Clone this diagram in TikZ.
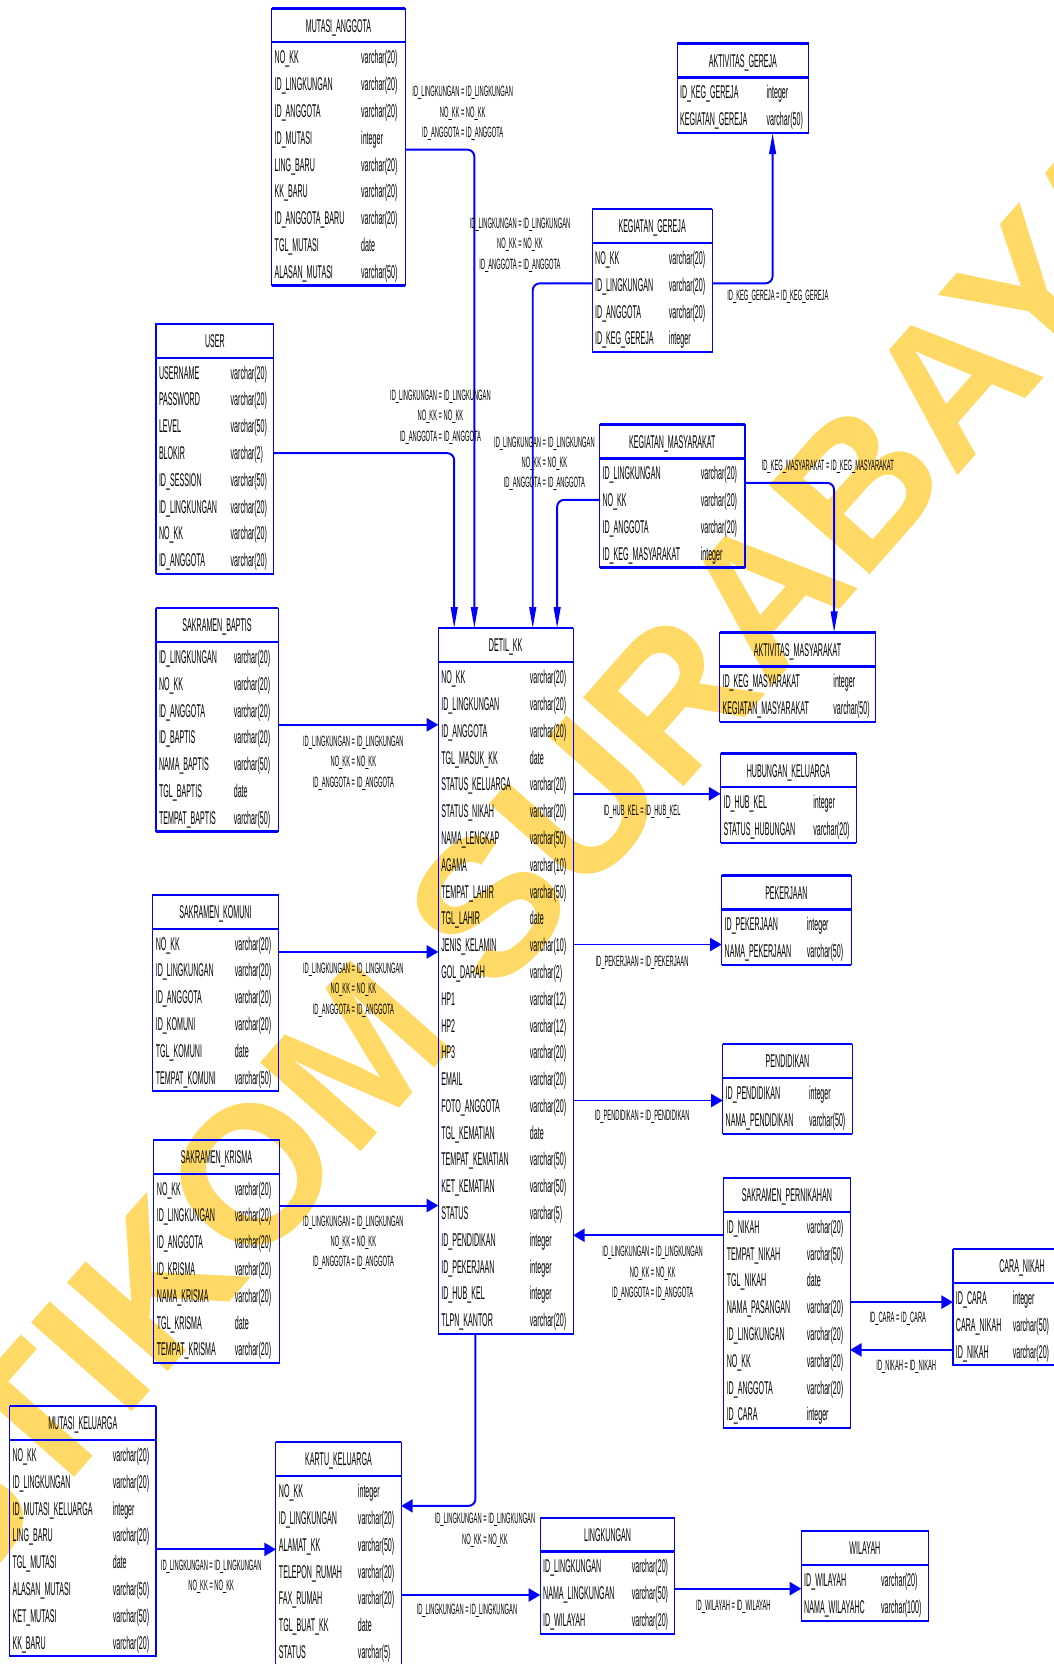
\documentclass[tikz,border=0pt]{standalone}
\usepackage{fontspec}
\usepackage{tikz}
\usetikzlibrary{arrows.meta}

\newfontfamily\erfont{Liberation Sans}[FakeStretch=0.385]
\newfontfamily\wmfont{Liberation Sans}
\definecolor{kuning}{RGB}{255,217,102}
\def\satuan{0.021228cm}

% tabel: nama, kiri, atas, lebar, kolom tipe, judul, isi
\newcommand{\tabel}[7]{%
  \foreach \nm/\tp [count=\nr] in {#7} {
    \node[isi] (#1-\nr) at (#2+2.5, #3+46+25.25*\nr-25.25) {\nm};
    \node[isi] (#1-tipe\nr) at (#2+#5, #3+46+25.25*\nr-25.25) {\tp};
    \xdef\nbaris{\nr}
  }
  \pgfmathsetmacro{\tinggi}{59+25.25*(\nbaris-1)}
  \node[kotak, minimum width=#4*\satuan, minimum height=\tinggi*\satuan] (#1) at (#2,#3) {};
  \node[judul] (#1-judul) at (#2+#4/2, #3+16) {#6};
  \draw[tebal] (#1.north west) -- (#1.north east);
  \draw[tebal] (#1.north west) ++(0,32) -- ++(#4,0);
  \draw[tebal] (#1.south west) -- (#1.south east);
}
\newcommand{\relasitiga}{ID\_LINGKUNGAN = ID\_LINGKUNGAN\\NO\_KK = NO\_KK\\ID\_ANGGOTA = ID\_ANGGOTA}
\newcommand{\relasidua}{ID\_LINGKUNGAN = ID\_LINGKUNGAN\\NO\_KK = NO\_KK}

\begin{document}
\begin{tikzpicture}[x=0.021228cm, y=-0.021228cm,
  isi/.style={anchor=west, inner sep=0pt, text height=7.5pt, text depth=0pt,
    font=\erfont\fontsize{10.5}{12}\selectfont},
  judul/.style={inner sep=0pt, text height=7.5pt, text depth=0pt,
    font=\erfont\fontsize{10.5}{12}\selectfont},
  kotak/.style={draw=blue, line width=0.6pt, anchor=north west, inner sep=0pt, outer sep=0pt},
  tebal/.style={blue, line width=1.2pt},
  rel/.style={blue, line width=1.1pt, rounded corners=4pt},
  ph/.style={-{Triangle[length=6.6pt,width=7.5pt]}},
  pv/.style={-{Triangle[length=12pt,width=3.8pt]}},
  ket/.style={align=center, inner sep=0pt, font=\erfont\fontsize{8.5}{11.6}\selectfont}]

 \useasboundingbox (0,0) rectangle (993,1568);
 \clip (0,0) rectangle (993,1568);

 % watermark
 \node[rotate=48.6, text=kuning, inner sep=0pt,
   font=\wmfont\bfseries\fontsize{111}{130}\selectfont] (tanda) at (500,809) {STIKOM SURABAYA};

 % the tables
 \tabel{ma}{256}{8}{126}{84}{MUTASI\_ANGGOTA}{NO\_KK/varchar(20), ID\_LINGKUNGAN/varchar(20),
   ID\_ANGGOTA/varchar(20), ID\_MUTASI/integer, LING\_BARU/varchar(20), KK\_BARU/varchar(20),
   ID\_ANGGOTA\_BARU/varchar(20), TGL\_MUTASI/date, ALASAN\_MUTASI/varchar(50)}
 \tabel{ag}{638}{41}{124}{84}{AKTIVITAS\_GEREJA}{ID\_KEG\_GEREJA/integer, KEGIATAN\_GEREJA/varchar(50)}
 \tabel{kg}{558}{197}{113}{72}{KEGIATAN\_GEREJA}{NO\_KK/varchar(20), ID\_LINGKUNGAN/varchar(20),
   ID\_ANGGOTA/varchar(20), ID\_KEG\_GEREJA/integer}
 \tabel{user}{147}{305}{111}{70}{USER}{USERNAME/varchar(20), PASSWORD/varchar(20), LEVEL/varchar(50),
   BLOKIR/varchar(2), ID\_SESSION/varchar(50), ID\_LINGKUNGAN/varchar(20), NO\_KK/varchar(20),
   ID\_ANGGOTA/varchar(20)}
 \tabel{km}{565}{400}{137}{95}{KEGIATAN\_MASYARAKAT}{ID\_LINGKUNGAN/varchar(20), NO\_KK/varchar(20),
   ID\_ANGGOTA/varchar(20), ID\_KEG\_MASYARAKAT/integer}
 \tabel{am}{678}{596}{147}{107}{AKTIVITAS\_MASYARAKAT}{ID\_KEG\_MASYARAKAT/integer,
   KEGIATAN\_MASYARAKAT/varchar(50)}
 \tabel{baptis}{147}{573}{115}{73}{SAKRAMEN\_BAPTIS}{ID\_LINGKUNGAN/varchar(20), NO\_KK/varchar(20),
   ID\_ANGGOTA/varchar(20), ID\_BAPTIS/varchar(20), NAMA\_BAPTIS/varchar(50), TGL\_BAPTIS/date,
   TEMPAT\_BAPTIS/varchar(50)}
 \tabel{detil}{413}{592}{127}{86}{DETIL\_KK}{NO\_KK/varchar(20), ID\_LINGKUNGAN/varchar(20),
   ID\_ANGGOTA/varchar(20), TGL\_MASUK\_KK/date, STATUS\_KELUARGA/varchar(20), STATUS\_NIKAH/varchar(20),
   NAMA\_LENGKAP/varchar(50), AGAMA/varchar(10), TEMPAT\_LAHIR/varchar(50), TGL\_LAHIR/date,
   JENIS\_KELAMIN/varchar(10), GOL\_DARAH/varchar(2), HP1/varchar(12), HP2/varchar(12), HP3/varchar(20),
   EMAIL/varchar(20), FOTO\_ANGGOTA/varchar(20), TGL\_KEMATIAN/date, TEMPAT\_KEMATIAN/varchar(50),
   KET\_KEMATIAN/varchar(50), STATUS/varchar(5), ID\_PENDIDIKAN/integer, ID\_PEKERJAAN/integer,
   ID\_HUB\_KEL/integer, TLPN\_KANTOR/varchar(20)}
 \tabel{hk}{679}{710}{128}{87}{HUBUNGAN\_KELUARGA}{ID\_HUB\_KEL/integer, STATUS\_HUBUNGAN/varchar(20)}
 \tabel{pek}{680}{825}{122}{80}{PEKERJAAN}{ID\_PEKERJAAN/integer, NAMA\_PEKERJAAN/varchar(50)}
 \tabel{pend}{681}{984}{122}{81}{PENDIDIKAN}{ID\_PENDIDIKAN/integer, NAMA\_PENDIDIKAN/varchar(50)}
 \tabel{komuni}{144}{843}{118}{77}{SAKRAMEN\_KOMUNI}{NO\_KK/varchar(20), ID\_LINGKUNGAN/varchar(20),
   ID\_ANGGOTA/varchar(20), ID\_KOMUNI/varchar(20), TGL\_KOMUNI/date, TEMPAT\_KOMUNI/varchar(50)}
 \tabel{krisma}{145}{1074}{118}{76}{SAKRAMEN\_KRISMA}{NO\_KK/varchar(20), ID\_LINGKUNGAN/varchar(20),
   ID\_ANGGOTA/varchar(20), ID\_KRISMA/varchar(20), NAMA\_KRISMA/varchar(20), TGL\_KRISMA/date,
   TEMPAT\_KRISMA/varchar(20)}
 \tabel{nikah}{682}{1110}{119}{78}{SAKRAMEN\_PERNIKAHAN}{ID\_NIKAH/varchar(20), TEMPAT\_NIKAH/varchar(50),
   TGL\_NIKAH/date, NAMA\_PASANGAN/varchar(20), ID\_LINGKUNGAN/varchar(20), NO\_KK/varchar(20),
   ID\_ANGGOTA/varchar(20), ID\_CARA/integer}
 \tabel{cara}{898}{1177}{130}{56}{CARA\_NIKAH}{ID\_CARA/integer, CARA\_NIKAH/varchar(50), ID\_NIKAH/varchar(20)}
 \tabel{mk}{9}{1325}{138}{97}{MUTASI\_KELUARGA}{NO\_KK/varchar(20), ID\_LINGKUNGAN/varchar(20),
   ID\_MUTASI\_KELUARGA/integer, LING\_BARU/varchar(20), TGL\_MUTASI/date, ALASAN\_MUTASI/varchar(50),
   KET\_MUTASI/varchar(50), KK\_BARU/varchar(20)}
 \tabel{kk}{260}{1359}{118}{77}{KARTU\_KELUARGA}{NO\_KK/integer, ID\_LINGKUNGAN/varchar(20),
   ALAMAT\_KK/varchar(50), TELEPON\_RUMAH/varchar(20), FAX\_RUMAH/varchar(20), TGL\_BUAT\_KK/date,
   STATUS/varchar(5)}
 \tabel{ling}{509}{1430}{127}{86}{LINGKUNGAN}{ID\_LINGKUNGAN/varchar(20), NAMA\_LINGKUNGAN/varchar(50),
   ID\_WILAYAH/varchar(20)}
 \tabel{wil}{755}{1443}{120}{75}{WILAYAH}{ID\_WILAYAH/varchar(20), NAMA\_WILAYAHC/varchar(100)}

 % relations into DETIL_KK from above
 \draw[rel, pv] (ma.east |- 0,141) -| (detil.north -| 447,0);
 \draw[rel, pv] (user.east |- 0,427) -| (detil.north -| 428,0);
 \draw[rel, pv] (kg.west |- 0,267) -| (detil.north -| 502,0);
 \draw[rel, pv] (km.west |- 0,471) -| (detil.north -| 525,0);
 \draw[rel, pv] (kg.east |- 0,267) -| (ag.south -| 728,0);
 \draw[rel, pv] (km.east |- 0,455) -| (am.north -| 786,0);
 % left and right of DETIL_KK
 \draw[rel, ph] (baptis.east |- 0,683) -- (detil.west |- 0,683);
 \draw[rel, ph] (komuni.east |- 0,897) -- (detil.west |- 0,897);
 \draw[rel, ph] (krisma.east |- 0,1136) -- (detil.west |- 0,1136);
 \draw[rel, ph] (detil.east |- 0,748) -- (hk.west |- 0,748);
 \draw[rel, ph] (detil.east |- 0,890) -- (pek.west |- 0,890);
 \draw[rel, ph] (detil.east |- 0,1037) -- (pend.west |- 0,1037);
 \draw[rel, ph] (nikah.west |- 0,1164) -- (detil.east |- 0,1164);
 \draw[rel, ph] (nikah.east |- 0,1227) -- (cara.west |- 0,1227);
 \draw[rel, ph] (cara.west |- 0,1272) -- (nikah.east |- 0,1272);
 % bottom part
 \draw[rel, ph] (detil.south -| 448,0) |- (kk.east |- 0,1419);
 \draw[rel, ph] (mk.east |- 0,1460) -- (kk.west |- 0,1460);
 \draw[rel, ph] (kk.east |- 0,1503) -- (ling.west |- 0,1503);
 \draw[rel, ph] (ling.east |- 0,1497) -- (wil.west |- 0,1497);

 % the labels
 \node[ket] (k-ma) at (436,107) {\relasitiga};
 \node[ket] (k-kg) at (490,231) {\relasitiga};
 \node[ket] (k-user) at (415,393) {\relasitiga};
 \node[ket] (k-km) at (513,437) {\relasitiga};
 \node[ket] (k-ag) at (733,280) {ID\_KEG\_GEREJA = ID\_KEG\_GEREJA};
 \node[ket] (k-am) at (780,440) {ID\_KEG\_MASYARAKAT = ID\_KEG\_MASYARAKAT};
 \node[ket] (k-baptis) at (333,719) {\relasitiga};
 \node[ket] (k-komuni) at (333,933) {\relasitiga};
 \node[ket] (k-krisma) at (333,1171) {\relasitiga};
 \node[ket] (k-hk) at (605,765) {ID\_HUB\_KEL = ID\_HUB\_KEL};
 \node[ket] (k-pek) at (605,907) {ID\_PEKERJAAN = ID\_PEKERJAAN};
 \node[ket] (k-pend) at (605,1052) {ID\_PENDIDIKAN = ID\_PENDIDIKAN};
 \node[ket] (k-nikah) at (615,1200) {\relasitiga};
 \node[ket] (k-cara) at (846,1243) {ID\_CARA = ID\_CARA};
 \node[ket] (k-idnikah) at (854,1288) {ID\_NIKAH = ID\_NIKAH};
 \node[ket] (k-kk) at (457,1442) {\relasidua};
 \node[ket] (k-mk) at (199,1486) {\relasidua};
 \node[ket] (k-ling) at (440,1518) {ID\_LINGKUNGAN = ID\_LINGKUNGAN};
 \node[ket] (k-wil) at (691,1514) {ID\_WILAYAH = ID\_WILAYAH};

\end{tikzpicture}
\end{document}
